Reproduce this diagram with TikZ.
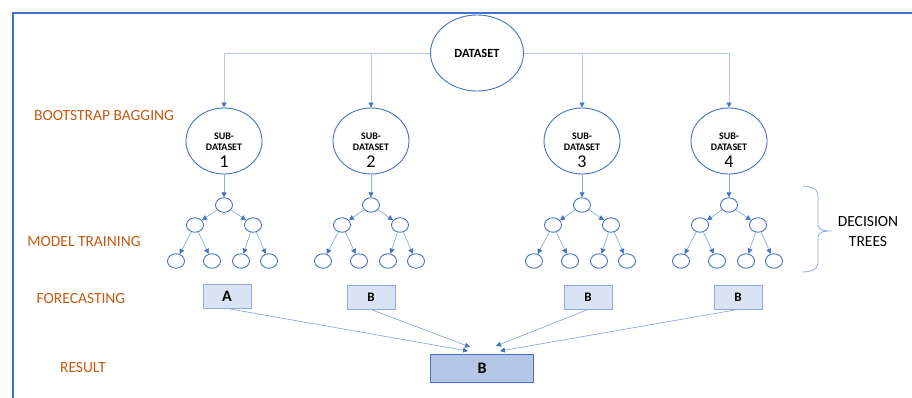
\documentclass[tikz,border=0pt]{standalone}
\usepackage{fontspec}
\setmainfont{Carlito}
\usetikzlibrary{shapes.geometric,arrows.meta,positioning,calc}
\definecolor{bgblue}{RGB}{68,114,196}
\definecolor{bglight}{RGB}{143,170,220}
\definecolor{bgpale}{RGB}{180,199,231}
\definecolor{bgfill}{RGB}{218,227,243}
\definecolor{bgorange}{RGB}{197,90,17}
\tikzset{
  dataoval/.style={
    ellipse, draw=bgblue, line width=0.9pt,
    minimum width=93pt, minimum height=76pt, inner sep=0pt,
    font=\fontsize{12.5}{14}\selectfont\bfseries
  },
  suboval/.style={
    ellipse, draw=bgblue, line width=0.9pt,
    minimum width=76pt, minimum height=66pt, inner sep=0pt
  },
  subtext/.style={
    align=center, inner sep=0pt,
    font=\fontsize{10}{10.5}\selectfont\bfseries
  },
  subnum/.style={inner sep=0pt, font=\fontsize{18}{18}\selectfont},
  treenode/.style={
    ellipse, draw=bgblue, line width=0.9pt,
    minimum width=17pt, minimum height=14.5pt, inner sep=0pt
  },
  votebox/.style={
    rectangle, draw=bglight, line width=0.9pt, fill=bgfill,
    minimum width=48pt, minimum height=24pt,
    font=\fontsize{13}{13}\selectfont\bfseries
  },
  resbox/.style={
    rectangle, draw=bgblue, line width=0.9pt, fill=bgpale,
    minimum width=103pt, minimum height=28pt,
    font=\fontsize{16}{16}\selectfont\bfseries
  },
  stagelabel/.style={text=bgorange, font=\fontsize{15.5}{17}\selectfont},
  feed/.style={-{Triangle[length=5pt,width=5pt,color=bgblue]}, bgpale, line width=0.8pt},
  treeedge/.style={-{Triangle[length=5pt,width=5pt,color=bgblue]}, bglight, line width=0.7pt}
}

\begin{document}
\begin{tikzpicture}[x=1pt,y=-1pt]
  \useasboundingbox (0,0) rectangle (912,398);
  % Frame
  \draw[bgblue, line width=2pt] (13,398) -- (13,13) -- (912,13);

  % Stage labels
  \node[stagelabel] (lboot)  at (104,116) {BOOTSTRAP BAGGING};
  \node[stagelabel] (ltrain) at (84,242)  {MODEL TRAINING};
  \node[stagelabel] (lfore)  at (81,299)  {FORECASTING};
  \node[stagelabel] (lres)   at (83,368)  {RESULT};

  % Full dataset
  \node[dataoval] (ds) at (477,53) {DATASET};

  % Sub-datasets and their trees
  \foreach \k/\x in {1/224,2/371,3/582,4/729} {
    \node[suboval] (sub\k) at (\x,141) {};
    \node[subtext] (lab\k) at (\x,142) {SUB-\\DATASET};
    \node[subnum]  (num\k) at (\x,162) {\k};
    \draw[feed] (ds) -| (sub\k);

    \node[treenode] (root\k)  at (\x,205)    {};
    \node[treenode] (left\k)  at (\x-29,225) {};
    \node[treenode] (right\k) at (\x+29,225) {};
    \node[treenode] (leafa\k) at (\x-48,261) {};
    \node[treenode] (leafb\k) at (\x-12,261) {};
    \node[treenode] (leafc\k) at (\x+17,261) {};
    \node[treenode] (leafd\k) at (\x+45,261) {};

    \draw[treeedge] (sub\k) -- (root\k);
    \draw[treeedge] (root\k) -- (left\k);
    \draw[treeedge] (root\k) -- (right\k);
    \draw[treeedge] (left\k) -- (leafa\k);
    \draw[treeedge] (left\k) -- (leafb\k);
    \draw[treeedge] (right\k) -- (leafc\k);
    \draw[treeedge] (right\k) -- (leafd\k);
  }

  % Brace over the last tree
  \coordinate (brtop) at (803,186);
  \coordinate (brbot) at (803,272);
  \draw[bglight, line width=0.8pt]
    (brtop) to[out=0,in=90] (818,195) -- (818,225)
    to[out=-90,in=180] (832,231) to[out=180,in=90] (818,237)
    -- (818,263) to[out=-90,in=0] (brbot);
  \node[align=center, font=\fontsize{15.5}{20}\selectfont] (dtrees) at (868,232)
    {DECISION\\TREES};

  % Forecasts
  \node[votebox, font=\fontsize{16}{16}\selectfont\bfseries] (vote1) at (227,296) {A};
  \node[votebox] (vote2) at (371,297) {B};
  \node[votebox] (vote3) at (588,297) {B};
  \node[votebox] (vote4) at (738,297) {B};

  % Aggregated result
  \node[resbox] (res) at (482,368) {B};
  \coordinate (in1) at (468,351);
  \coordinate (in2) at (470,347);
  \coordinate (in3) at (496,346);
  \coordinate (in4) at (500,351);
  \foreach \k in {1,...,4}
    \draw[treeedge] (vote\k.south) -- (in\k);
\end{tikzpicture}
\end{document}
